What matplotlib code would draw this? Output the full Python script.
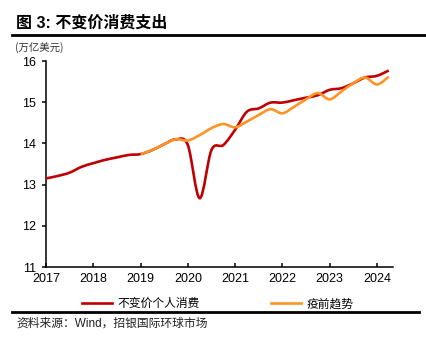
import numpy as np
import matplotlib
matplotlib.use('Agg')
import matplotlib.pyplot as plt
from matplotlib.path import Path
from matplotlib.patches import PathPatch
from matplotlib.lines import Line2D

plt.rcParams['font.family'] = ['Liberation Sans', 'Noto Sans CJK SC', 'DejaVu Sans']

# 季度数据 (万亿美元)
quarters = ['2017Q1', '2017Q2', '2017Q3', '2017Q4', '2018Q1', '2018Q2', '2018Q3', '2018Q4',
            '2019Q1', '2019Q2', '2019Q3', '2019Q4', '2020Q1', '2020Q2', '2020Q3', '2020Q4',
            '2021Q1', '2021Q2', '2021Q3', '2021Q4', '2022Q1', '2022Q2', '2022Q3', '2022Q4',
            '2023Q1', '2023Q2', '2023Q3', '2023Q4', '2024Q1', '2024Q2']
real_pce = [13.15, 13.21, 13.29, 13.43, 13.52, 13.60, 13.66, 13.72,
            13.74, 13.84, 13.98, 14.10, 13.96, 12.67, 13.84, 13.96,
            14.33, 14.77, 14.85, 14.99, 14.99, 15.05, 15.11, 15.17,
            15.30, 15.34, 15.46, 15.60, 15.64, 15.77]
# 疫前趋势从 2019Q1 开始
trend_start = '2019Q1'
pre_covid_trend = [13.74, 13.84, 13.98, 14.10, 14.07, 14.20, 14.37, 14.47,
                   14.39, 14.53, 14.69, 14.83, 14.73, 14.89, 15.07, 15.22,
                   15.07, 15.26, 15.46, 15.60, 15.43, 15.62]
year_ticks = [2017, 2018, 2019, 2020, 2021, 2022, 2023, 2024]
legend_labels = ['不变价个人消费', '疫前趋势']

def q2x(q):
    return int(q[:4]) + (int(q[-1]) - 1) / 4

def smooth_path(xs, ys):
    # 平滑曲线 (类似 Excel 的平滑线), 用 Catmull-Rom -> Bezier
    p = np.column_stack([xs, ys])
    n = len(p)
    verts = [p[0]]
    codes = [Path.MOVETO]
    for i in range(n - 1):
        p0 = p[i - 1] if i > 0 else p[i]
        p3 = p[i + 2] if i + 2 < n else p[i + 1]
        c1 = p[i] + (p[i + 1] - p0) / 6
        c2 = p[i + 1] - (p3 - p[i]) / 6
        verts += [c1, c2, p[i + 1]]
        codes += [Path.CURVE4] * 3
    return Path(verts, codes)

x_all = [q2x(q) for q in quarters]
i0 = quarters.index(trend_start)
x_trend = x_all[i0:i0 + len(pre_covid_trend)]

red = '#C00000'
orange = '#FF9326'

fig = plt.figure(figsize=(4.27, 3.52), dpi=100)
ax = fig.add_axes([46/427, 1 - 267/352, 347/427, 206/352])

ax.add_patch(PathPatch(smooth_path(x_all, real_pce), fill=False, ec=red, lw=1.9, zorder=3))
ax.add_patch(PathPatch(smooth_path(x_trend, pre_covid_trend), fill=False, ec=orange, lw=1.9, zorder=4))

ax.set_xlim(2017, 2024.34)
ax.set_ylim(11, 16)
ax.set_xticks(year_ticks)
ax.set_xticklabels([str(y) for y in year_ticks])
ax.set_yticks([11, 12, 13, 14, 15, 16])
for s in ['top', 'right']:
    ax.spines[s].set_visible(False)
for s in ['left', 'bottom']:
    ax.spines[s].set_linewidth(1.1)
ax.tick_params(axis='x', direction='in', length=3, width=1.1, labelsize=9, pad=4)
ax.tick_params(axis='y', direction='out', length=3, width=1.1, labelsize=9, pad=4)

handles = [Line2D([], [], color=red, lw=1.9), Line2D([], [], color=orange, lw=1.9)]
ax.legend(handles, legend_labels, loc='upper center', bbox_to_anchor=(0.494, -0.095),
          ncol=2, frameon=False, handlelength=2.6, handletextpad=0.4,
          columnspacing=6.05, prop={'family': ['Noto Sans CJK SC'], 'size': 8.5})

fig.text(16/427, 1 - 23/352, '图 3: 不变价消费支出', fontsize=11.5, fontweight='bold', va='center')
fig.add_artist(Line2D([12/427, 1], [1 - 35/352] * 2, color='black', lw=2))
fig.text(15/427, 1 - 48/352, '(万亿美元)', fontsize=7.5, va='center', color='#333333',
         family=['Noto Sans CJK SC'])
fig.add_artist(Line2D([12/427, 419/427], [1 - 311.5/352] * 2, color='black', lw=2))
fig.text(16/427, 1 - 324/352, '资料来源：Wind，招银国际环球市场', fontsize=8.5, va='center',
         color='#222222')

fig.savefig('out.png', dpi=100)
